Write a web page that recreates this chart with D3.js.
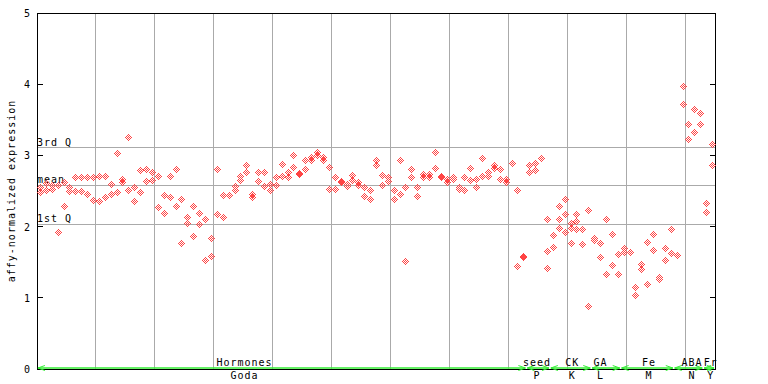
<!DOCTYPE html>
<html><head><meta charset="utf-8">
<script src="https://cdn.jsdelivr.net/npm/d3@7"></script>
<style>
body{margin:0;background:#fff}
svg{display:block}
text{font-family:"DejaVu Sans Mono",monospace;font-size:10px;letter-spacing:1px;fill:#000}
</style>
</head><body>
<svg id="c" width="768" height="384"></svg>
<script>
// ---- data (values per sample; each sample has 1-3 replicate values) ----
const hormonesValues = [
 [2.56,2.48],[2.61,2.52],[2.59,2.53],[2.59,1.93],[2.62,2.29],[2.55,2.50],[2.69,2.50],[2.70,2.50],
 [2.70,2.46],[2.70,2.38],[2.71,2.36],[2.71,2.42],[2.60,2.46],[3.04,2.48],[2.67,2.62],[3.26,2.52],
 [2.56,2.36],[2.80,2.49],[2.81,2.64],[2.76,2.66],[2.71,2.28],[2.45,2.19],[2.71,2.42],[2.81,2.29],
 [2.39,1.77],[2.14,2.05],[2.29,1.87],[2.19,2.03],[2.10,1.53],[1.84,1.59],[2.81,2.18],[2.45,2.14],
 [2.45],[2.57,2.52],[2.71,2.65],[2.87,2.77],[2.46,2.42],[2.77,2.64],[2.77,2.57],[2.60,2.52],
 [2.70,2.59],[2.88,2.71],[2.77,2.70],[3.00,2.84],[2.75,2.74],[2.94,2.81],[2.98,2.93],[3.05,3.00],
 [2.98,2.93],[2.84,2.53],[2.70,2.53],[2.64,2.63],[2.60,2.57],[2.73,2.66],[2.62,2.59],[2.56,2.43],
 [2.52,2.39],[2.93,2.86],[2.73,2.59],[2.70,2.64],[2.52,2.39],[2.93,2.46],[2.56,1.52],[2.81,2.69],
 [2.55,2.43],[2.74,2.69],[2.74,2.69],[3.05,2.83],[2.71,2.69],[2.67,2.62],[2.70,2.67],[2.56,2.53],
 [2.69,2.52],[2.83,2.66],[2.67,2.56],[2.97,2.71],[2.77,2.71],[2.86,2.83],[2.81,2.67],[2.67,2.63],
 [2.90,2.89],[2.52,1.45],[1.59,1.58]
];
const seedValues = [[2.86,2.76],[2.90,2.80],[2.97,2.96],[2.10,1.66,1.42]];
const ckValues = [[1.88,1.72],[2.29,2.10,1.98],[2.39,2.17,1.93],[2.05,1.98,1.77],[2.17,2.08,1.97],[1.96,1.76],[2.24,0.89]];
const gaValues = [[1.84,1.81],[1.77,1.58],[2.11,1.34],[1.90,1.46],[1.62,1.34]];
const feValues = [[1.70,1.65],[1.65],[1.15,1.04],[1.48,1.41],[1.79,1.20],[1.90,1.67],[1.29,1.27],[1.70,1.53],[1.97,1.63]];
const abaValues = [[1.60],[3.98,3.72],[3.44,3.23],[3.65,3.33],[3.60,3.44]];
const frValues = [[2.33,2.20],[3.16,2.86]];

const groupTop = ["Hormones","seed","CK","GA","Fe","ABA","Fr"];
const groupBottom = ["Goda","P","K","L","M","N","Y"];
const groupSeries = [hormonesValues, seedValues, ckValues, gaValues, feValues, abaValues, frValues];
// sample index (fractional) where each group's labels sit
const groupLabelAt = [34.7, 84.3, 90.3, 95.1, 103.3, 110.6, 113.8];
// hormone arrow covers through this sample, later groups shift accordingly
const stats = [{name:"3rd Q", v:3.104},{name:"mean", v:2.584},{name:"1st Q", v:2.032}];
const yTicks = [0,1,2,3,4,5];

// ---- build sample table ----
const samples = [];
const groups = [];
groupSeries.forEach((arr, g) => {
  const start = samples.length;
  arr.forEach(vals => samples.push({g, vals}));
  groups.push({top: groupTop[g], bottom: groupBottom[g], start, end: samples.length - 1, at: groupLabelAt[g]});
});
// arrow extents: ABA arrow starts at its first high sample in the original
const nS = samples.length;

const svg = d3.select("#c");
const L = 37, R = 715, T = 13, B = 369;
const x = d3.scaleBand().domain(d3.range(nS)).range([L, R]).paddingInner(0).paddingOuter(0);
const bw = x.bandwidth();
const xc = i => x(i) + bw / 2;
const xf = f => L + bw * (f + 0.5);
const y = d3.scaleLinear().domain([0, 5]).range([B, T]);

const crisp = v => Math.floor(v) + 0.5;
const grid = svg.append("g").attr("shape-rendering","crispEdges");

// vertical grid every 10 samples
d3.range(10, nS, 10).forEach(i => {
  grid.append("line").attr("x1", crisp(x(i))).attr("x2", crisp(x(i)))
    .attr("y1", T).attr("y2", B).attr("stroke", "#aaaaaa");
});
// statistic lines
stats.forEach(s => {
  grid.append("line").attr("x1", L).attr("x2", R)
    .attr("y1", crisp(y(s.v))).attr("y2", crisp(y(s.v))).attr("stroke", "#aaaaaa");
  svg.append("text").attr("x", L).attr("y", Math.round(y(s.v)) - 2).text(s.name);
});

// frame
const frame = svg.append("g").attr("shape-rendering","crispEdges").attr("stroke","#000");
frame.append("line").attr("x1", L+0.5).attr("x2", L+0.5).attr("y1", T).attr("y2", B+1);
frame.append("line").attr("x1", R+0.5).attr("x2", R+0.5).attr("y1", T).attr("y2", B+1);
frame.append("line").attr("x1", L).attr("x2", R+1).attr("y1", T+0.5).attr("y2", T+0.5);
frame.append("line").attr("x1", L).attr("x2", R+1).attr("y1", B+0.5).attr("y2", B+0.5);

// y ticks (inside, both sides) and labels
yTicks.forEach(t => {
  const yy = crisp(y(t));
  frame.append("line").attr("x1", L).attr("x2", L+6).attr("y1", yy).attr("y2", yy);
  frame.append("line").attr("x1", R-5).attr("x2", R+1).attr("y1", yy).attr("y2", yy);
  svg.append("text").attr("x", 31).attr("y", y(t) + 4).attr("text-anchor","end").text(t);
});
svg.append("text").attr("transform", `translate(15,${(T+B)/2}) rotate(-90)`)
  .attr("text-anchor","middle").text("affy-normalized expression");

// group arrows and labels
const green = "#33ee33";
const ga = svg.append("g").attr("stroke", green).attr("fill","none").attr("stroke-width",1.6);
groups.forEach(gr => {
  const x0 = xc(gr.start) - 2, x1 = xc(gr.end) + 2, yy = 368;
  ga.append("line").attr("x1", x0).attr("x2", x1).attr("y1", yy).attr("y2", yy);
  ga.append("path").attr("d", `M${x0+7},${yy-2.5}L${x0},${yy}L${x0+7},${yy+2.5}`).attr("stroke-width",1);
  ga.append("path").attr("d", `M${x1-7},${yy-2.5}L${x1},${yy}L${x1-7},${yy+2.5}`).attr("stroke-width",1);
  svg.append("text").attr("x", xf(gr.at)).attr("y", 366).attr("text-anchor","middle").text(gr.top);
  svg.append("text").attr("x", xf(gr.at)).attr("y", 379).attr("text-anchor","middle").text(gr.bottom);
});

// markers: checkerboard diamonds
const offs = [];
for (let dy = -3; dy <= 3; dy++) for (let dx = -3; dx <= 3; dx++) {
  const d = Math.abs(dx) + Math.abs(dy);
  if (d === 1 || d === 3) offs.push([dx, dy]);
}
const pts = [];
samples.forEach((s, i) => s.vals.forEach(v => pts.push({i, v})));
svg.append("g").attr("fill", "#ff4444").attr("shape-rendering","crispEdges")
  .selectAll("path").data(pts).join("path")
  .attr("d", p => {
    const cx = Math.round(xc(p.i)), cy = Math.round(y(p.v));
    return offs.map(([dx, dy]) => `M${cx+dx},${cy+dy}h1v1h-1z`).join("");
  });
</script>
</body></html>
